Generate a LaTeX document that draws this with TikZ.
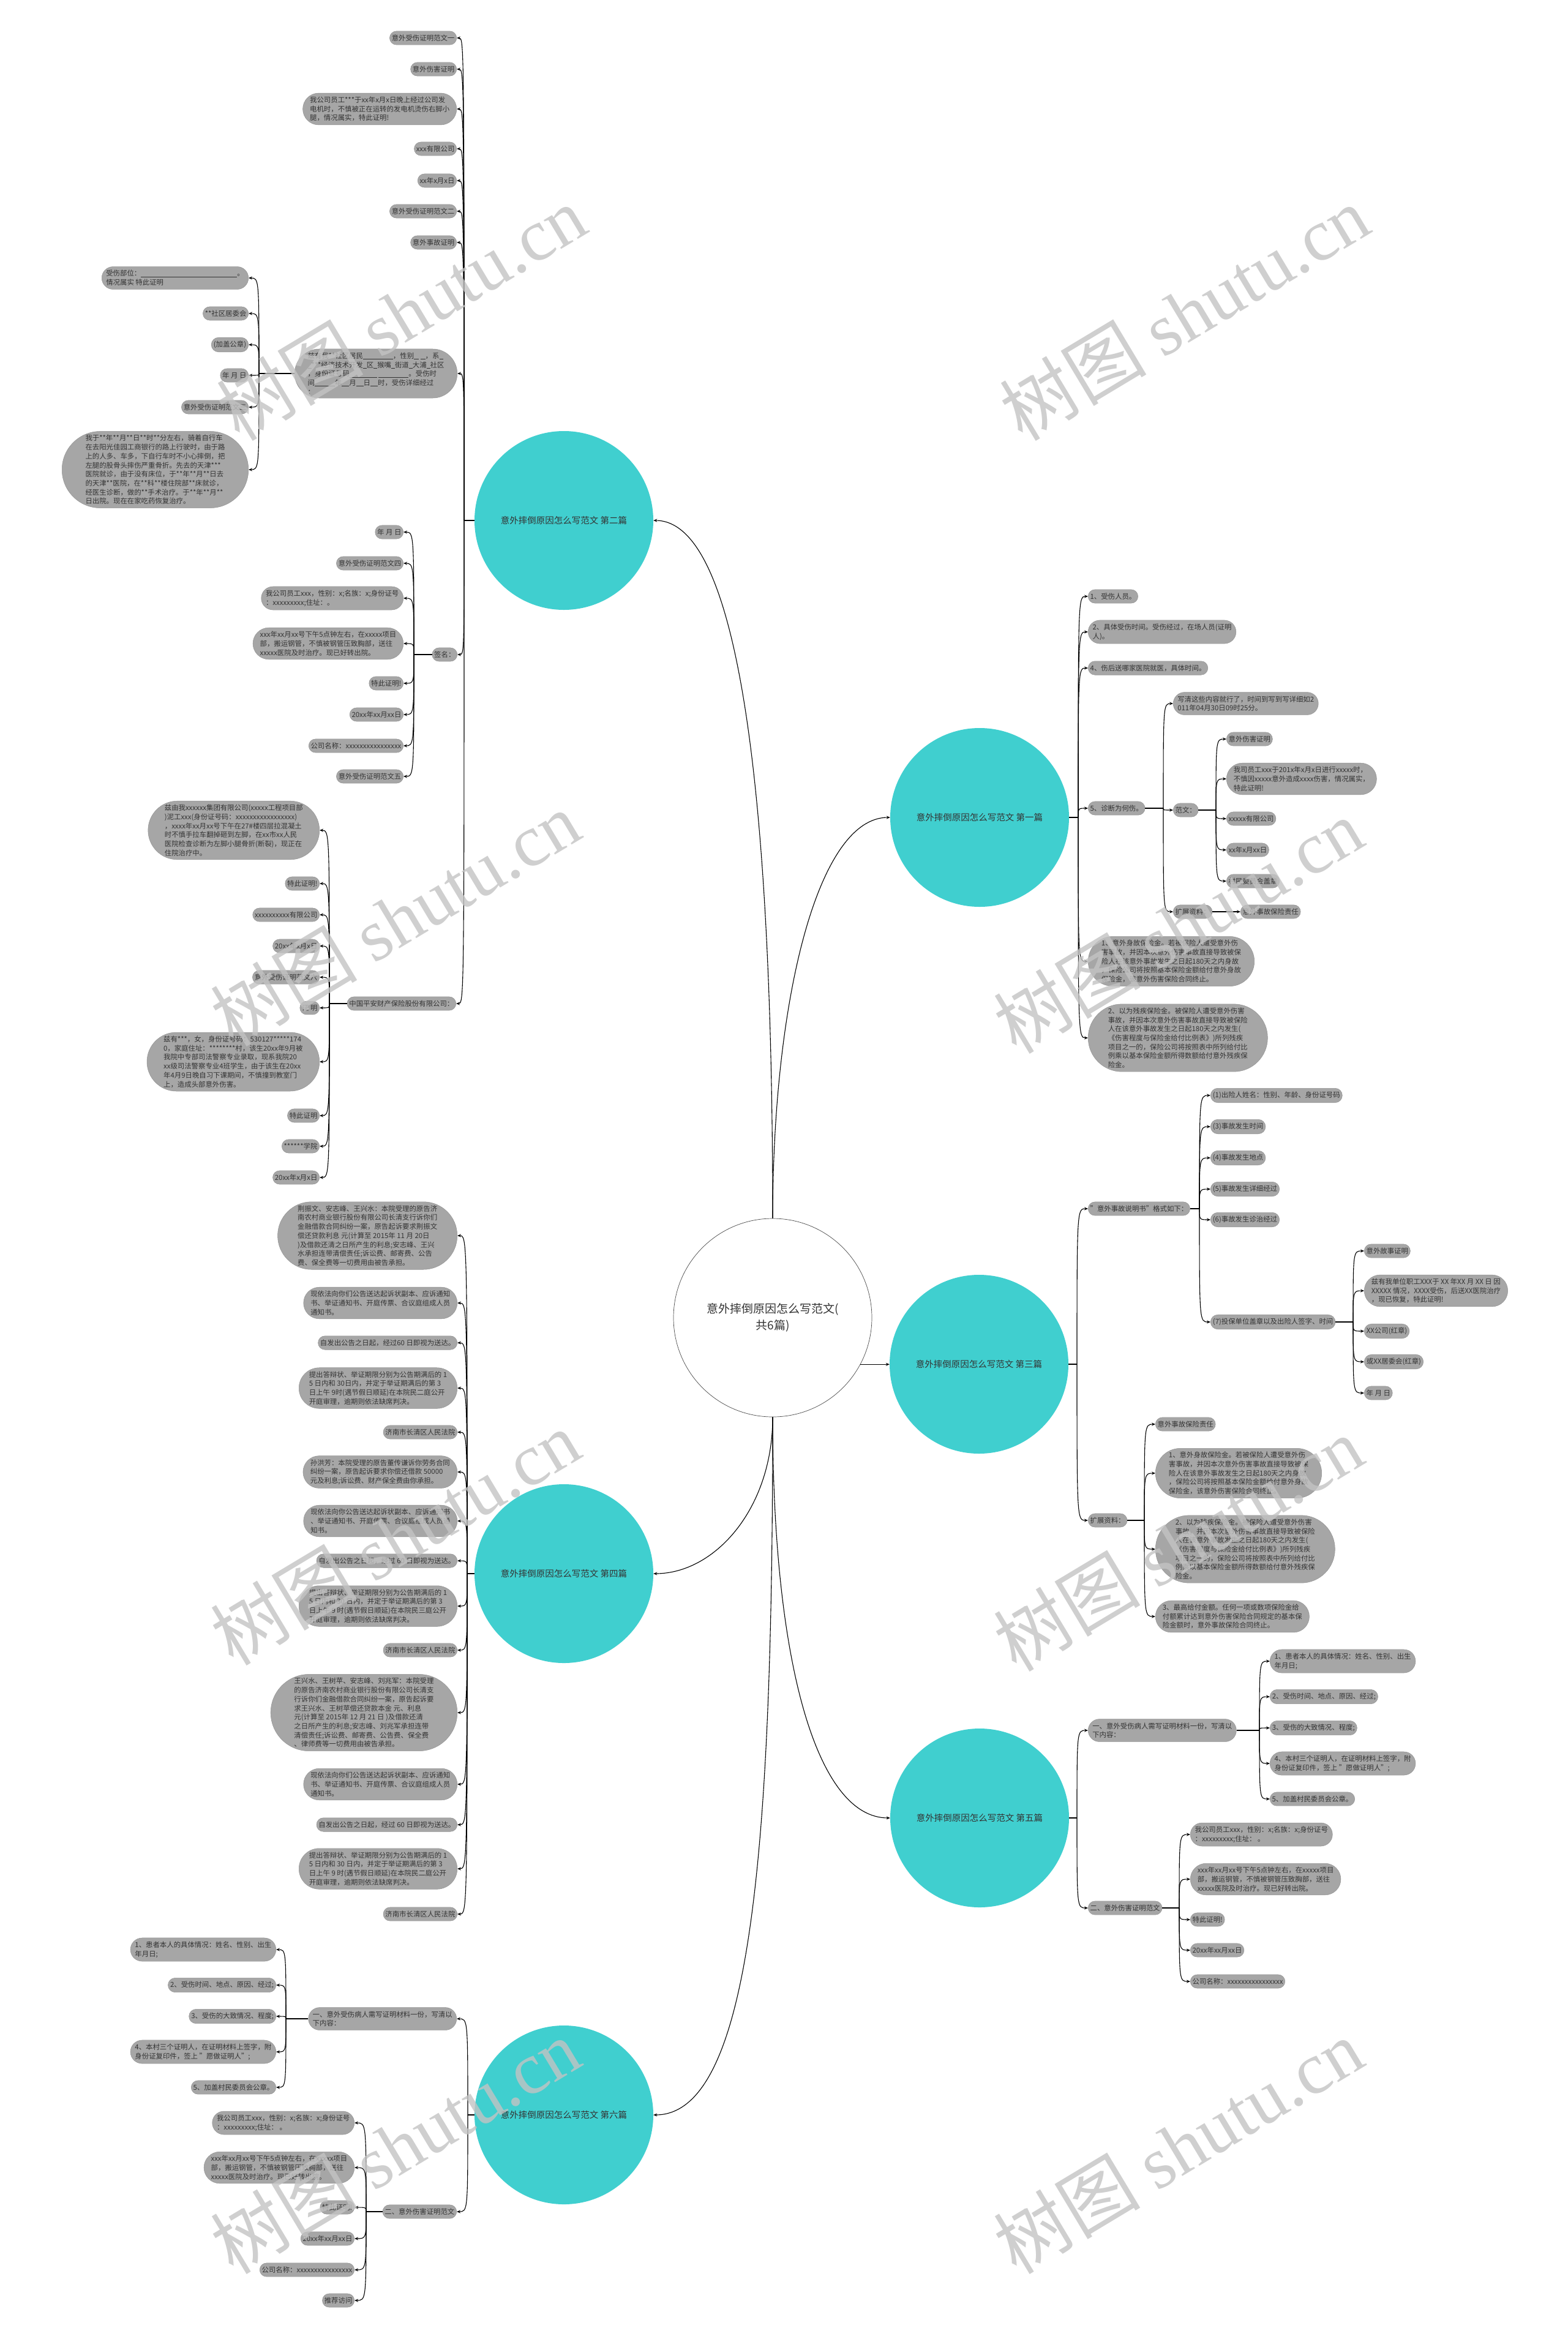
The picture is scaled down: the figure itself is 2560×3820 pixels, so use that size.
\documentclass[tikz,border=0pt]{standalone}
\usepackage{fontspec}
\setmainfont{Noto Sans CJK SC}
\newfontfamily\wmfont{Liberation Serif}
\usetikzlibrary{shapes.misc,arrows.meta}
\definecolor{topicfill}{RGB}{64,207,207}
\definecolor{leaffill}{RGB}{166,166,166}
\definecolor{leaftext}{RGB}{51,51,51}
\definecolor{wmgray}{RGB}{195,195,195}
\newcommand\fillin[1]{\rule[-1.5pt]{#1pt}{0.6pt}}
\def\kid(#1)(#2){\draw[link] (#1) .. controls (#1 |- #2) .. (#2);}

\begin{document}
\begin{tikzpicture}[x=1pt,y=-1pt,
  leaf/.style={rounded rectangle, fill=leaffill, draw=leaffill!88!black, line width=0.5pt,
    inner xsep=2pt, inner ysep=5.8pt, align=left, text=leaftext,
    font=\fontsize{11.4}{14.7}\selectfont},
  topicnode/.style={circle, fill=topicfill, minimum size=292pt, inner sep=0pt,
    text=leaftext, font=\fontsize{14.5}{17}\selectfont},
  rootnode/.style={circle, fill=white, draw=black!70, line width=0.7pt, minimum size=324pt,
    align=center, text=leaftext, font=\fontsize{19}{27}\selectfont},
  link/.style={line width=1.1pt, -{Stealth[length=6pt,width=5pt]}},
  stub/.style={line width=1.1pt},
  wmark/.style={rotate=31, text=wmgray, text opacity=0.8, font=\fontsize{120}{120}\selectfont}]
\useasboundingbox (0,0) rectangle (2560,3820);

%%%%% root and topics %%%%%
\node[rootnode] (root) at (1262,2152) {意外摔倒原因怎么写范文(\\共6篇)};
\node[topicnode] (t1) at (1600,1335) {意外摔倒原因怎么写范文 第一篇};
\node[topicnode] (t2) at (921,850) {意外摔倒原因怎么写范文 第二篇};
\node[topicnode] (t3) at (1599,2228) {意外摔倒原因怎么写范文 第三篇};
\node[topicnode] (t4) at (921,2570) {意外摔倒原因怎么写范文 第四篇};
\node[topicnode] (t5) at (1600,2969) {意外摔倒原因怎么写范文 第五篇};
\node[topicnode] (t6) at (921,3454) {意外摔倒原因怎么写范文 第六篇};

\draw[link] (root.north) .. controls +(0,-350) and +(-120,0) .. (t1.west);
\draw[link] (root.north) .. controls +(0,-550) and +(160,0) .. (t2.east);
\draw[link] (root.-28) -- (root.-28 -| t3.west);
\draw[link] (root.south) .. controls +(0,150) and +(100,0) .. (t4.east);
\draw[link] (root.south) .. controls +(0,400) and +(-120,0) .. (t5.west);
\draw[link] (root.south) .. controls +(0,700) and +(160,0) .. (t6.east);

%%%%% 第二篇 %%%%%
\coordinate (s2) at (758,850);
\draw[stub] (t2.west) -- (s2);
\node[leaf,anchor=east] (n2a) at (746,62) {意外受伤证明范文一};
\node[leaf,anchor=east] (n2b) at (746,113) {意外伤害证明};
\node[leaf,anchor=east] (n2c) at (746,178) {我公司员工***于xx年x月x日晚上经过公司发\\电机时，不慎被正在运转的发电机烫伤右脚小\\腿，情况属实，特此证明!};
\node[leaf,anchor=east] (n2d) at (746,243) {xxx有限公司};
\node[leaf,anchor=east] (n2e) at (746,295) {xx年x月x日};
\node[leaf,anchor=east] (n2f) at (746,345) {意外受伤证明范文二};
\node[leaf,anchor=east] (n2g) at (746,396) {意外事故证明};
\node[leaf,anchor=east] (n2h) at (747,610) {兹有我**社区居民\fillin{49}，性别\fillin{8} \fillin{8}，系\fillin{6}\\\fillin{6}***经济技术开发\fillin{6}区\fillin{6}猴嘴\fillin{6}街道\fillin{6}大浦\fillin{6}社区\\，身份证号码\fillin{45} \fillin{49}。受伤时\\间\fillin{33}年\fillin{12}月\fillin{12}日\fillin{12}时，受伤详细经过\\：};
\node[leaf,anchor=east] (n2i) at (747,1069) {签名：};
\node[leaf,anchor=east] (n2j) at (745,1639) {中国平安财产保险股份有限公司：};
\kid(s2)(n2a.east) \kid(s2)(n2b.east) \kid(s2)(n2c.east) \kid(s2)(n2d.east)
\kid(s2)(n2e.east) \kid(s2)(n2f.east) \kid(s2)(n2g.east) \kid(s2)(n2h.east)
\kid(s2)(n2i.east) \kid(s2)(n2j.east)

\coordinate (s2h) at (423,610);
\draw[stub] (n2h.west) -- (s2h);
\node[leaf,anchor=east] (n2h1) at (406,454) {受伤部位：\fillin{157}。\\情况属实 特此证明};
\node[leaf,anchor=east] (n2h2) at (406,512) {**社区居委会};
\node[leaf,anchor=east] (n2h3) at (406,563) {(加盖公章)};
\node[leaf,anchor=east] (n2h4) at (406,613) {年 月 日};
\node[leaf,anchor=east] (n2h5) at (406,665) {意外受伤证明范文三};
\node[leaf,anchor=east] (n2h6) at (406,767) {我于**年**月**日**时**分左右，骑着自行车\\在去阳光佳园工商银行的路上行驶时，由于路\\上的人多、车多，下自行车时不小心摔倒，把\\左腿的股骨头摔伤严重骨折。先去的天津***\\医院就诊，由于没有床位，于**年**月**日去\\的天津**医院，在**科**楼住院部**床就诊，\\经医生诊断，做的**手术治疗。于**年**月**\\日出院。现在在家吃药恢复治疗。};
\kid(s2h)(n2h1.east) \kid(s2h)(n2h2.east) \kid(s2h)(n2h3.east)
\kid(s2h)(n2h4.east) \kid(s2h)(n2h5.east) \kid(s2h)(n2h6.east)

\coordinate (s2i) at (676,1069);
\draw[stub] (n2i.west) -- (s2i);
\node[leaf,anchor=east] (n2i1) at (659,869) {年 月 日};
\node[leaf,anchor=east] (n2i2) at (659,920) {意外受伤证明范文四};
\node[leaf,anchor=east] (n2i3) at (659,977) {我公司员工xxx，性别：x;名族：x;身份证号\\：xxxxxxxxx;住址：。};
\node[leaf,anchor=east] (n2i4) at (659,1051) {xxx年xx月xx号下午5点钟左右，在xxxxx项目\\部，搬运钢管，不慎被钢管压致胸部，送往\\xxxxx医院及时治疗。现已好转出院。};
\node[leaf,anchor=east] (n2i5) at (659,1116) {特此证明!};
\node[leaf,anchor=east] (n2i6) at (659,1167) {20xx年xx月xx日};
\node[leaf,anchor=east] (n2i7) at (659,1218) {公司名称：xxxxxxxxxxxxxxxx};
\node[leaf,anchor=east] (n2i8) at (659,1268) {意外受伤证明范文五};
\kid(s2i)(n2i1.east) \kid(s2i)(n2i2.east) \kid(s2i)(n2i3.east) \kid(s2i)(n2i4.east)
\kid(s2i)(n2i5.east) \kid(s2i)(n2i6.east) \kid(s2i)(n2i7.east) \kid(s2i)(n2i8.east)

\coordinate (s2j) at (538,1639);
\draw[stub] (n2j.west) -- (s2j);
\node[leaf,anchor=east] (n2j1) at (522,1356) {兹由我xxxxxx集团有限公司(xxxxx工程项目部\\)泥工xxx(身份证号码：xxxxxxxxxxxxxxxxx)\\，xxxx年xx月xx号下午在27\#楼四层拉混凝土\\时不慎手拉车翻掉砸到左脚，在xx市xx人民\\医院检查诊断为左脚小腿骨折(断裂)，现正在\\住院治疗中。};
\node[leaf,anchor=east] (n2j2) at (522,1443) {特此证明!};
\node[leaf,anchor=east] (n2j3) at (522,1494) {xxxxxxxxxx有限公司};
\node[leaf,anchor=east] (n2j4) at (522,1545) {20xx年x月x日};
\node[leaf,anchor=east] (n2j5) at (522,1596) {意外受伤证明范文六};
\node[leaf,anchor=east] (n2j6) at (522,1646) {证 明};
\node[leaf,anchor=east] (n2j7) at (522,1734) {兹有***，女，身份证号码：530127*****174\\0，家庭住址：********村，该生20xx年9月被\\我院中专部司法警察专业录取，现系我院20\\xx级司法警察专业4班学生，由于该生在20xx\\年4月9日晚自习下课期间，不慎撞到教室门\\上，造成头部意外伤害。};
\node[leaf,anchor=east] (n2j8) at (522,1822) {特此证明};
\node[leaf,anchor=east] (n2j9) at (522,1872) {******学院};
\node[leaf,anchor=east] (n2j10) at (522,1923) {20xx年x月x日};
\kid(s2j)(n2j1.east) \kid(s2j)(n2j2.east) \kid(s2j)(n2j3.east) \kid(s2j)(n2j4.east)
\kid(s2j)(n2j5.east) \kid(s2j)(n2j6.east) \kid(s2j)(n2j7.east) \kid(s2j)(n2j8.east)
\kid(s2j)(n2j9.east) \kid(s2j)(n2j10.east)

%%%%% 第四篇 %%%%%
\coordinate (s4) at (763,2570);
\draw[stub] (t4.west) -- (s4);
\node[leaf,anchor=east] (n4a) at (747,2018) {荆振文、安志峰、王兴水：本院受理的原告济\\南农村商业银行股份有限公司长清支行诉你们\\金融借款合同纠纷一案，原告起诉要求荆振文\\偿还贷款利息 元(计算至 2015年 11 月 20日\\)及借款还清之日所产生的利息;安志峰、王兴\\水承担连带清偿责任;诉讼费、邮寄费、公告\\费、保全费等一切费用由被告承担。};
\node[leaf,anchor=east] (n4b) at (747,2128) {现依法向你们公告送达起诉状副本、应诉通知\\书、举证通知书、开庭传票、合议庭组成人员\\通知书。};
\node[leaf,anchor=east] (n4c) at (747,2193) {自发出公告之日起，经过60 日即视为送达。};
\node[leaf,anchor=east] (n4d) at (747,2267) {提出答辩状、举证期限分别为公告期满后的 1\\5 日内和 30日内，并定于举证期满后的第 3\\日上午 9时(遇节假日顺延)在本院民二庭公开\\开庭审理，逾期则依法缺席判决。};
\node[leaf,anchor=east] (n4e) at (747,2339) {济南市长清区人民法院};
\node[leaf,anchor=east] (n4f) at (747,2404) {孙洪芳：本院受理的原告董传谦诉你劳务合同\\纠纷一案，原告起诉要求你偿还借款 50000\\元及利息;诉讼费、财产保全费由你承担。};
\node[leaf,anchor=east] (n4g) at (747,2484) {现依法向你公告送达起诉状副本、应诉通知书\\、举证通知书、开庭传票、合议庭组成人员通\\知书。};
\node[leaf,anchor=east] (n4h) at (747,2549) {自发出公告之日起，经过 60 日即视为送达。};
\node[leaf,anchor=east] (n4i) at (747,2623) {提出答辩状、举证期限分别为公告期满后的 1\\5 日内和 30 日内，并定于举证期满后的第 3\\日上午 9 时(遇节假日顺延)在本院民三庭公开\\开庭审理，逾期则依法缺席判决。};
\node[leaf,anchor=east] (n4j) at (747,2695) {济南市长清区人民法院};
\node[leaf,anchor=east] (n4k) at (747,2797) {王兴水、王树苹、安志峰、刘兆军：本院受理\\的原告济南农村商业银行股份有限公司长清支\\行诉你们金融借款合同纠纷一案，原告起诉要\\求王兴水、王树苹偿还贷款本金 元、利息 \\元(计算至 2015年 12 月 21 日 )及借款还清\\之日所产生的利息;安志峰、刘兆军承担连带\\清偿责任;诉讼费、邮寄费、公告费、保全费\\、律师费等一切费用由被告承担。};
\node[leaf,anchor=east] (n4l) at (747,2914) {现依法向你们公告送达起诉状副本、应诉通知\\书、举证通知书、开庭传票、合议庭组成人员\\通知书。};
\node[leaf,anchor=east] (n4m) at (747,2980) {自发出公告之日起，经过 60 日即视为送达。};
\node[leaf,anchor=east] (n4n) at (747,3052) {提出答辩状、举证期限分别为公告期满后的 1\\5 日内和 30 日内，并定于举证期满后的第 3\\日上午 9 时(遇节假日顺延)在本院民二庭公开\\开庭审理，逾期则依法缺席判决。};
\node[leaf,anchor=east] (n4o) at (747,3126) {济南市长清区人民法院};
\foreach \k in {a,b,c,d,e,f,g,h,i,j,k,l,m,n,o} {\kid(s4)(n4\k.east)}

%%%%% 第六篇 %%%%%
\coordinate (s6) at (764,3454);
\draw[stub] (t6.west) -- (s6);
\node[leaf,anchor=east] (n6a) at (746,3297) {一、意外受伤病人需写证明材料一份，写清以\\下内容：};
\node[leaf,anchor=east] (n6b) at (746,3612) {二、意外伤害证明范文};
\kid(s6)(n6a.east) \kid(s6)(n6b.east)

\coordinate (s6a) at (467,3297);
\draw[stub] (n6a.west) -- (s6a);
\node[leaf,anchor=east] (n6a1) at (451,3184) {1、患者本人的具体情况：姓名、性别、出生\\年月日;};
\node[leaf,anchor=east] (n6a2) at (451,3242) {2、受伤时间、地点、原因、经过;};
\node[leaf,anchor=east] (n6a3) at (451,3293) {3、受伤的大致情况、程度;};
\node[leaf,anchor=east] (n6a4) at (451,3351) {4、本村三个证明人，在证明材料上签字，附\\身份证复印件，签上 "愿做证明人";};
\node[leaf,anchor=east] (n6a5) at (451,3409) {5、加盖村民委员会公章。};
\foreach \k in {1,...,5} {\kid(s6a)(n6a\k.east)}

\coordinate (s6b) at (598,3612);
\draw[stub] (n6b.west) -- (s6b);
\node[leaf,anchor=east] (n6b1) at (579,3467) {我公司员工xxx，性别：x;名族：x;身份证号\\：xxxxxxxxx;住址： 。};
\node[leaf,anchor=east] (n6b2) at (579,3540) {xxx年xx月xx号下午5点钟左右，在xxxxx项目\\部，搬运钢管，不慎被钢管压致胸部，送往\\xxxxx医院及时治疗。现已好转出院。};
\node[leaf,anchor=east] (n6b3) at (579,3605) {特此证明!};
\node[leaf,anchor=east] (n6b4) at (579,3656) {20xx年xx月xx日};
\node[leaf,anchor=east] (n6b5) at (579,3707) {公司名称：xxxxxxxxxxxxxxxx};
\node[leaf,anchor=east] (n6b6) at (579,3757) {推荐访问};
\foreach \k in {1,...,6} {\kid(s6b)(n6b\k.east)}

%%%%% 第一篇 %%%%%
\coordinate (s1) at (1761,1335);
\draw[stub] (t1.east) -- (s1);
\node[leaf,anchor=west] (n1a) at (1777,974) {1、受伤人员。};
\node[leaf,anchor=west] (n1b) at (1777,1032) {2、具体受伤时间。受伤经过，在场人员(证明\\人)。};
\node[leaf,anchor=west] (n1c) at (1777,1091) {4、伤后送哪家医院就医，具体时间。};
\node[leaf,anchor=west] (n1d) at (1777,1320) {5、诊断为何伤。};
\node[leaf,anchor=west] (n1e) at (1777,1570) {1、意外身故保险金。若被保险人遭受意外伤\\害事故，并因本次意外伤害事故直接导致被保\\险人在该意外事故发生之日起180天之内身故\\，保险公司将按照基本保险金额给付意外身故\\保险金，该意外伤害保险合同终止。};
\node[leaf,anchor=west] (n1f) at (1777,1695) {2、以为残疾保险金。被保险人遭受意外伤害\\事故，并因本次意外伤害事故直接导致被保险\\人在该意外事故发生之日起180天之内发生(\\《伤害程度与保险金给付比例表》)所列残疾\\项目之一的，保险公司将按照表中所列给付比\\例乘以基本保险金额所得数额给付意外残疾保\\险金。};
\foreach \k in {a,b,c,d,e,f} {\kid(s1)(n1\k.west)}

\coordinate (s1d) at (1900,1320);
\draw[stub] (n1d.east) -- (s1d);
\node[leaf,anchor=west] (n1d1) at (1916,1149) {写清这些内容就行了，时间到写到写详细如2\\011年04月30日09时25分。};
\node[leaf,anchor=west] (n1d2) at (1916,1323) {范文：};
\node[leaf,anchor=west] (n1d3) at (1916,1489) {扩展资料：};
\kid(s1d)(n1d1.west) \kid(s1d)(n1d2.west) \kid(s1d)(n1d3.west)

\coordinate (s1e) at (1986,1323);
\draw[stub] (n1d2.east) -- (s1e);
\node[leaf,anchor=west] (n1e1) at (2003,1207) {意外伤害证明};
\node[leaf,anchor=west] (n1e2) at (2003,1272) {我司员工xxx于201x年x月x日进行xxxxx时，\\不慎因xxxxx意外造成xxxx伤害，情况属实，\\特此证明!};
\node[leaf,anchor=west] (n1e3) at (2003,1337) {xxxxx有限公司};
\node[leaf,anchor=west] (n1e4) at (2003,1388) {xx年x月xx日};
\node[leaf,anchor=west] (n1e5) at (2003,1439) {村民委员会盖章};
\foreach \k in {1,...,5} {\kid(s1e)(n1e\k.west)}

\node[leaf,anchor=west] (n1f1) at (2026,1489) {意外事故保险责任};
\draw[link] (n1d3.east) -- (n1f1.west);

%%%%% 第三篇 %%%%%
\coordinate (s3) at (1759,2228);
\draw[stub] (t3.east) -- (s3);
\node[leaf,anchor=west] (n3a) at (1777,1974) {"意外事故说明书"格式如下：};
\node[leaf,anchor=west] (n3b) at (1777,2483) {扩展资料：};
\kid(s3)(n3a.west) \kid(s3)(n3b.west)

\coordinate (s3a) at (1959,1974);
\draw[stub] (n3a.east) -- (s3a);
\node[leaf,anchor=west] (n3a1) at (1977,1789) {(1)出险人姓名：性别、年龄、身份证号码};
\node[leaf,anchor=west] (n3a2) at (1977,1840) {(3)事故发生时间};
\node[leaf,anchor=west] (n3a3) at (1977,1891) {(4)事故发生地点};
\node[leaf,anchor=west] (n3a4) at (1977,1942) {(5)事故发生详细经过};
\node[leaf,anchor=west] (n3a5) at (1977,1992) {(6)事故发生诊治经过};
\node[leaf,anchor=west] (n3a6) at (1977,2159) {(7)投保单位盖章以及出险人签字、时间};
\foreach \k in {1,...,6} {\kid(s3a)(n3a\k.west)}

\coordinate (s3c) at (2210,2159);
\draw[stub] (n3a6.east) -- (s3c);
\node[leaf,anchor=west] (n3c1) at (2228,2043) {意外故事证明};
\node[leaf,anchor=west] (n3c2) at (2228,2108) {兹有我单位职工XXX于 XX 年XX 月 XX 日 因\\XXXXX 情况，XXXX受伤，后送XX医院治疗\\，现已恢复，特此证明!};
\node[leaf,anchor=west] (n3c3) at (2228,2174) {XX公司(红章)};
\node[leaf,anchor=west] (n3c4) at (2228,2224) {或XX居委会(红章)};
\node[leaf,anchor=west] (n3c5) at (2228,2275) {年 月 日};
\foreach \k in {1,...,5} {\kid(s3c)(n3c\k.west)}

\coordinate (s3b) at (1869,2483);
\draw[stub] (n3b.east) -- (s3b);
\node[leaf,anchor=west] (n3b1) at (1887,2326) {意外事故保险责任};
\node[leaf,anchor=west] (n3b2) at (1887,2406) {1、意外身故保险金。若被保险人遭受意外伤\\害事故，并因本次意外伤害事故直接导致被保\\险人在该意外事故发生之日起180天之内身故\\，保险公司将按照基本保险金额给付意外身故\\保险金，该意外伤害保险合同终止。};
\node[leaf,anchor=west] (n3b3) at (1887,2530) {2、以为残疾保险金。被保险人遭受意外伤害\\事故，并因本次意外伤害事故直接导致被保险\\人在该意外事故发生之日起180天之内发生(\\《伤害程度与保险金给付比例表》)所列残疾\\项目之一的，保险公司将按照表中所列给付比\\例乘以基本保险金额所得数额给付意外残疾保\\险金。};
\node[leaf,anchor=west] (n3b4) at (1887,2640) {3、最高给付金额。任何一项或数项保险金给\\付额累计达到意外伤害保险合同规定的基本保\\险金额时，意外事故保险合同终止。};
\foreach \k in {1,...,4} {\kid(s3b)(n3b\k.west)}

%%%%% 第五篇 %%%%%
\coordinate (s5) at (1759,2969);
\draw[stub] (t5.east) -- (s5);
\node[leaf,anchor=west] (n5a) at (1777,2826) {一、意外受伤病人需写证明材料一份，写清以\\下内容：};
\node[leaf,anchor=west] (n5b) at (1777,3116) {二、意外伤害证明范文};
\kid(s5)(n5a.west) \kid(s5)(n5b.west)

\coordinate (s5a) at (2057,2826);
\draw[stub] (n5a.east) -- (s5a);
\node[leaf,anchor=west] (n5a1) at (2074,2713) {1、患者本人的具体情况：姓名、性别、出生\\年月日;};
\node[leaf,anchor=west] (n5a2) at (2074,2771) {2、受伤时间、地点、原因、经过;};
\node[leaf,anchor=west] (n5a3) at (2074,2822) {3、受伤的大致情况、程度;};
\node[leaf,anchor=west] (n5a4) at (2074,2880) {4、本村三个证明人，在证明材料上签字，附\\身份证复印件，签上 "愿做证明人";};
\node[leaf,anchor=west] (n5a5) at (2074,2938) {5、加盖村民委员会公章。};
\foreach \k in {1,...,5} {\kid(s5a)(n5a\k.west)}

\coordinate (s5b) at (1926,3116);
\draw[stub] (n5b.east) -- (s5b);
\node[leaf,anchor=west] (n5b1) at (1944,2996) {我公司员工xxx，性别：x;名族：x;身份证号\\：xxxxxxxxx;住址： 。};
\node[leaf,anchor=west] (n5b2) at (1944,3069) {xxx年xx月xx号下午5点钟左右，在xxxxx项目\\部，搬运钢管，不慎被钢管压致胸部，送往\\xxxxx医院及时治疗。现已好转出院。};
\node[leaf,anchor=west] (n5b3) at (1944,3135) {特此证明!};
\node[leaf,anchor=west] (n5b4) at (1944,3185) {20xx年xx月xx日};
\node[leaf,anchor=west] (n5b5) at (1944,3236) {公司名称：xxxxxxxxxxxxxxxx};
\foreach \k in {1,...,5} {\kid(s5b)(n5b\k.west)}

%%%%% watermark %%%%%
\foreach \wx/\wy in {655/511,1934/511,645/1500,1924/1512,645/2511,1924/2521,645/3505,1924/3505}
  \node[wmark] at (\wx,\wy) {树图 {\wmfont shutu.cn}};
\end{tikzpicture}
\end{document}
